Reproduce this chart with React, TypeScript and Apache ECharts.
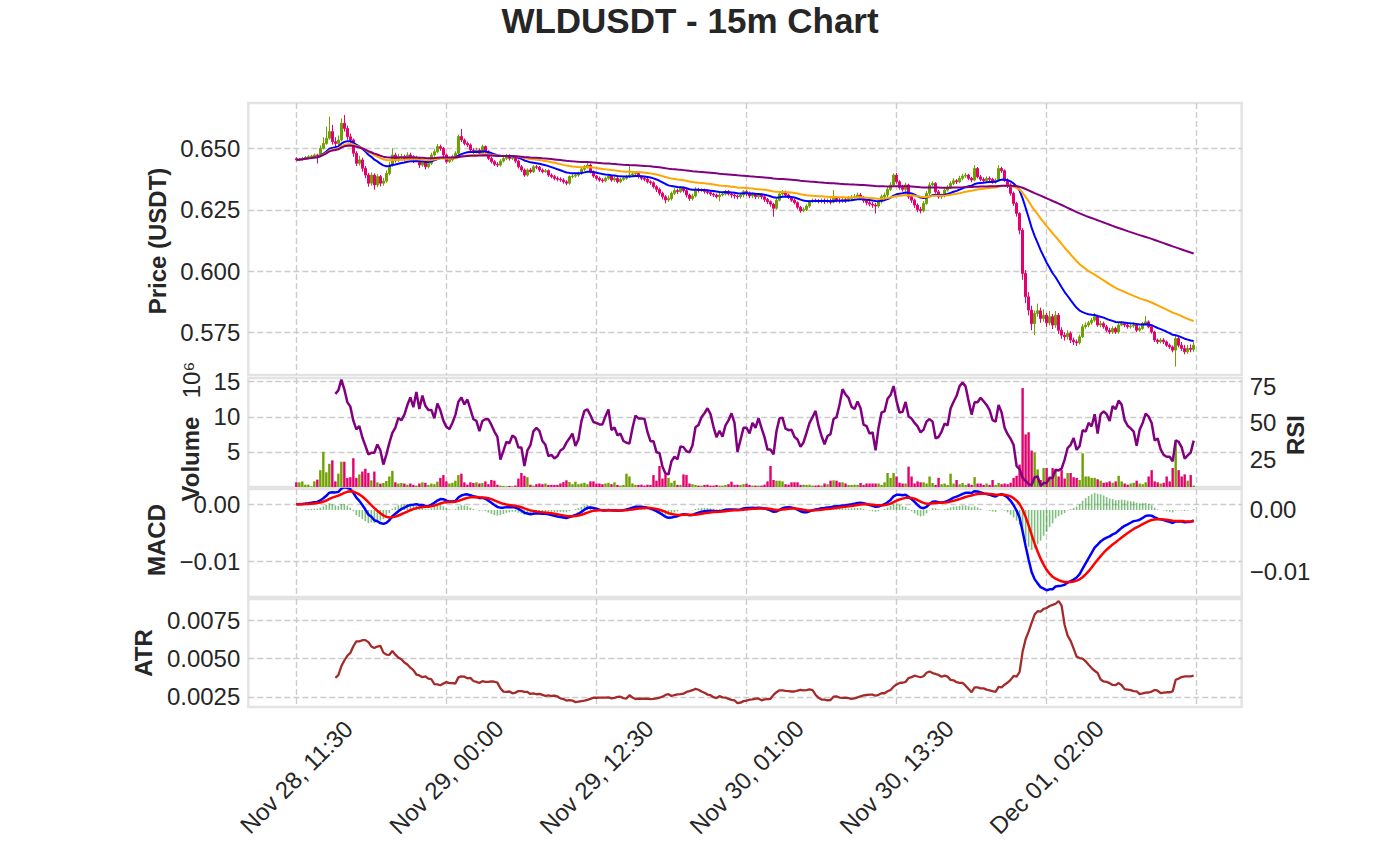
import React, { useEffect, useRef } from 'react';
import * as echarts from 'echarts';

const FONT = '"Liberation Sans", Arial, Helvetica, sans-serif';
const TXT = '#262626';
const UP = '#6ea000';
const DOWN = '#e6006e';

// OHLC in units of 0.0001 USDT, 15m bars starting Nov 28 11:30
const opens = [
  6458, 6453, 6455, 6459, 6463, 6466, 6469, 6473, 6470, 6500,
  6520, 6541, 6568, 6527, 6520, 6534, 6602, 6581, 6547, 6534,
  6480, 6439, 6453, 6419, 6391, 6358, 6391, 6351, 6385, 6358,
  6367, 6398, 6432, 6473, 6453, 6466, 6466, 6459, 6473, 6466,
  6453, 6459, 6432, 6446, 6425, 6439, 6473, 6486, 6507, 6500,
  6473, 6446, 6453, 6466, 6480, 6548, 6534, 6520, 6514, 6493,
  6486, 6493, 6480, 6507, 6486, 6459, 6446, 6435, 6432, 6448,
  6459, 6470, 6459, 6462, 6448, 6425, 6412, 6391, 6412, 6405,
  6425, 6423, 6412, 6405, 6409, 6391, 6385, 6378, 6374, 6371,
  6364, 6358, 6385, 6387, 6391, 6398, 6415, 6425, 6432, 6405,
  6387, 6378, 6371, 6368, 6378, 6387, 6371, 6378, 6364, 6374,
  6378, 6385, 6391, 6396, 6398, 6385, 6378, 6374, 6364, 6360,
  6344, 6333, 6317, 6303, 6290, 6296, 6317, 6328, 6324, 6337,
  6328, 6310, 6296, 6306, 6333, 6328, 6330, 6324, 6320, 6314,
  6310, 6303, 6310, 6314, 6324, 6314, 6310, 6306, 6303, 6310,
  6324, 6318, 6306, 6314, 6303, 6310, 6303, 6292, 6283, 6273,
  6256, 6289, 6314, 6323, 6310, 6300, 6289, 6279, 6260, 6246,
  6251, 6265, 6283, 6289, 6287, 6283, 6289, 6283, 6287, 6281,
  6296, 6289, 6287, 6292, 6289, 6296, 6300, 6303, 6310, 6300,
  6287, 6279, 6273, 6269, 6265, 6283, 6303, 6310, 6333, 6351,
  6391, 6364, 6341, 6333, 6351, 6303, 6289, 6269, 6251, 6246,
  6276, 6317, 6351, 6357, 6323, 6303, 6306, 6330, 6341, 6357,
  6368, 6364, 6378, 6387, 6391, 6378, 6371, 6418, 6384, 6374,
  6368, 6378, 6374, 6364, 6371, 6418, 6409, 6371, 6351, 6317,
  6276, 6235, 6167, 5991, 5896, 5842, 5787, 5828, 5839, 5808,
  5821, 5790, 5815, 5781, 5821, 5760, 5740, 5733, 5747, 5720,
  5713, 5709, 5733, 5774, 5781, 5790, 5801, 5815, 5781, 5787,
  5774, 5760, 5753, 5767, 5753, 5781, 5787, 5781, 5774, 5777,
  5781, 5760, 5767, 5787, 5794, 5774, 5753, 5720, 5713, 5720,
  5713, 5699, 5692, 5679, 5726, 5699, 5686, 5672, 5686, 5682,
];
const highs = [
  6463, 6461, 6465, 6468, 6472, 6474, 6479, 6478, 6512, 6545,
  6588, 6629, 6595, 6545, 6552, 6622, 6636, 6592, 6560, 6540,
  6488, 6470, 6462, 6428, 6400, 6402, 6398, 6395, 6392, 6380,
  6410, 6445, 6500, 6482, 6478, 6478, 6474, 6484, 6482, 6472,
  6470, 6465, 6456, 6452, 6448, 6482, 6496, 6518, 6515, 6506,
  6478, 6462, 6474, 6488, 6556, 6579, 6540, 6528, 6520, 6500,
  6502, 6500, 6515, 6512, 6492, 6466, 6452, 6444, 6456, 6466,
  6478, 6476, 6470, 6468, 6454, 6432, 6418, 6418, 6420, 6432,
  6432, 6428, 6418, 6416, 6414, 6398, 6392, 6386, 6382, 6378,
  6370, 6390, 6395, 6398, 6405, 6422, 6432, 6440, 6438, 6410,
  6392, 6385, 6378, 6385, 6394, 6392, 6386, 6384, 6380, 6386,
  6392, 6432, 6404, 6406, 6404, 6390, 6384, 6380, 6370, 6366,
  6350, 6340, 6324, 6310, 6308, 6324, 6338, 6336, 6346, 6344,
  6334, 6316, 6315, 6342, 6340, 6338, 6336, 6330, 6326, 6320,
  6316, 6324, 6322, 6330, 6330, 6320, 6316, 6312, 6318, 6330,
  6330, 6324, 6320, 6318, 6316, 6316, 6308, 6298, 6288, 6278,
  6296, 6320, 6330, 6328, 6316, 6305, 6295, 6284, 6266, 6260,
  6272, 6290, 6296, 6295, 6293, 6296, 6296, 6296, 6296, 6330,
  6305, 6298, 6302, 6300, 6306, 6310, 6314, 6320, 6318, 6306,
  6294, 6288, 6282, 6278, 6292, 6312, 6320, 6342, 6362, 6398,
  6400, 6370, 6352, 6360, 6356, 6310, 6295, 6276, 6262, 6285,
  6326, 6362, 6366, 6362, 6330, 6316, 6338, 6350, 6366, 6378,
  6375, 6388, 6396, 6400, 6396, 6384, 6432, 6424, 6392, 6382,
  6386, 6386, 6380, 6378, 6432, 6425, 6414, 6378, 6358, 6324,
  6282, 6240, 6175, 6005, 5915, 5860, 5840, 5868, 5852, 5845,
  5830, 5838, 5826, 5838, 5830, 5772, 5752, 5760, 5755, 5730,
  5722, 5742, 5785, 5792, 5798, 5810, 5830, 5822, 5798, 5795,
  5782, 5770, 5776, 5774, 5790, 5796, 5794, 5788, 5786, 5790,
  5786, 5776, 5794, 5818, 5800, 5780, 5758, 5726, 5728, 5728,
  5718, 5706, 5698, 5738, 5735, 5712, 5700, 5700, 5702, 5712,
];
const lows = [
  6447, 6448, 6450, 6454, 6458, 6461, 6463, 6438, 6466, 6496,
  6514, 6535, 6515, 6505, 6512, 6528, 6568, 6535, 6520, 6466,
  6428, 6430, 6405, 6378, 6344, 6348, 6332, 6342, 6345, 6348,
  6360, 6390, 6425, 6442, 6445, 6452, 6448, 6452, 6455, 6440,
  6444, 6420, 6425, 6414, 6418, 6432, 6466, 6480, 6490, 6465,
  6438, 6440, 6446, 6460, 6474, 6525, 6512, 6505, 6486, 6478,
  6480, 6472, 6474, 6478, 6452, 6438, 6428, 6424, 6426, 6442,
  6452, 6450, 6452, 6440, 6418, 6404, 6384, 6385, 6398, 6400,
  6415, 6404, 6398, 6400, 6384, 6378, 6370, 6366, 6364, 6356,
  6350, 6352, 6378, 6380, 6384, 6392, 6408, 6418, 6398, 6380,
  6370, 6364, 6360, 6362, 6372, 6364, 6364, 6357, 6358, 6368,
  6372, 6380, 6385, 6390, 6378, 6370, 6366, 6357, 6352, 6336,
  6322, 6308, 6292, 6276, 6282, 6288, 6310, 6314, 6318, 6320,
  6300, 6286, 6288, 6300, 6320, 6322, 6316, 6312, 6306, 6302,
  6296, 6284, 6305, 6308, 6308, 6299, 6295, 6293, 6295, 6300,
  6306, 6297, 6297, 6293, 6295, 6293, 6282, 6273, 6263, 6222,
  6250, 6284, 6308, 6302, 6294, 6282, 6272, 6252, 6238, 6240,
  6245, 6258, 6278, 6280, 6276, 6276, 6274, 6276, 6272, 6276,
  6280, 6276, 6278, 6278, 6282, 6286, 6290, 6296, 6292, 6278,
  6268, 6264, 6258, 6235, 6258, 6276, 6296, 6302, 6326, 6344,
  6356, 6332, 6324, 6325, 6294, 6278, 6258, 6240, 6235, 6240,
  6270, 6310, 6345, 6316, 6295, 6294, 6300, 6324, 6334, 6350,
  6355, 6358, 6370, 6380, 6370, 6362, 6366, 6378, 6366, 6360,
  6360, 6366, 6356, 6356, 6366, 6400, 6364, 6338, 6308, 6266,
  6222, 6150, 5965, 5870, 5820, 5760, 5740, 5815, 5790, 5795,
  5772, 5780, 5765, 5770, 5745, 5725, 5718, 5722, 5708, 5700,
  5696, 5702, 5728, 5766, 5772, 5782, 5794, 5774, 5772, 5766,
  5752, 5744, 5745, 5745, 5746, 5776, 5772, 5766, 5766, 5770,
  5752, 5754, 5762, 5782, 5768, 5746, 5712, 5704, 5706, 5704,
  5692, 5684, 5670, 5612, 5690, 5676, 5662, 5664, 5670, 5672,
];
const closes = [
  6453, 6455, 6459, 6463, 6466, 6469, 6473, 6470, 6500, 6520,
  6541, 6568, 6527, 6520, 6534, 6602, 6581, 6547, 6534, 6480,
  6439, 6453, 6419, 6391, 6358, 6391, 6351, 6385, 6358, 6367,
  6398, 6432, 6473, 6453, 6466, 6466, 6459, 6473, 6466, 6453,
  6459, 6432, 6446, 6425, 6439, 6473, 6486, 6507, 6500, 6473,
  6446, 6453, 6466, 6480, 6548, 6534, 6520, 6514, 6493, 6486,
  6493, 6480, 6507, 6486, 6459, 6446, 6435, 6432, 6448, 6459,
  6470, 6459, 6462, 6448, 6425, 6412, 6391, 6412, 6405, 6425,
  6423, 6412, 6405, 6409, 6391, 6385, 6378, 6374, 6371, 6364,
  6358, 6385, 6387, 6391, 6398, 6415, 6425, 6432, 6405, 6387,
  6378, 6371, 6368, 6378, 6387, 6371, 6378, 6364, 6374, 6378,
  6385, 6391, 6396, 6398, 6385, 6378, 6374, 6364, 6360, 6344,
  6333, 6317, 6303, 6290, 6296, 6317, 6328, 6324, 6337, 6328,
  6310, 6296, 6306, 6333, 6328, 6330, 6324, 6320, 6314, 6310,
  6303, 6310, 6314, 6324, 6314, 6310, 6306, 6303, 6310, 6324,
  6318, 6306, 6314, 6303, 6310, 6303, 6292, 6283, 6273, 6256,
  6289, 6314, 6323, 6310, 6300, 6289, 6279, 6260, 6246, 6251,
  6265, 6283, 6289, 6287, 6283, 6289, 6283, 6287, 6281, 6296,
  6289, 6287, 6292, 6289, 6296, 6300, 6303, 6310, 6300, 6287,
  6279, 6273, 6269, 6265, 6283, 6303, 6310, 6333, 6351, 6391,
  6364, 6341, 6333, 6351, 6303, 6289, 6269, 6251, 6246, 6276,
  6317, 6351, 6357, 6323, 6303, 6306, 6330, 6341, 6357, 6368,
  6364, 6378, 6387, 6391, 6378, 6371, 6418, 6384, 6374, 6368,
  6378, 6374, 6364, 6371, 6418, 6409, 6371, 6351, 6317, 6276,
  6235, 6167, 5991, 5896, 5842, 5787, 5828, 5839, 5808, 5821,
  5790, 5815, 5781, 5821, 5760, 5740, 5733, 5747, 5720, 5713,
  5709, 5733, 5774, 5781, 5790, 5801, 5815, 5781, 5787, 5774,
  5760, 5753, 5767, 5753, 5781, 5787, 5781, 5774, 5777, 5781,
  5760, 5767, 5787, 5794, 5774, 5753, 5720, 5713, 5720, 5713,
  5699, 5692, 5679, 5726, 5699, 5686, 5672, 5686, 5682, 5699,
];
// volume in millions
const volumes = [
  0.67, 0.67, 0.8, 0.33, 0.33, 0.1, 0.8, 1.05, 2.4, 5.0,
  2.1, 3.3, 3.8, 0.8, 1.9, 3.6, 3.6, 1.3, 1.4, 4.1,
  1.3, 1.8, 2.2, 2.6, 2.0, 0.95, 2.2, 0.67, 0.48, 0.57,
  0.86, 1.5, 2.3, 0.67, 0.5, 0.57, 0.5, 0.33, 0.5, 0.3,
  0.2, 0.5, 0.67, 0.6, 0.3, 0.5, 0.4, 0.76, 1.3, 1.7,
  0.8, 0.5, 0.6, 0.9, 1.7, 1.9, 0.67, 0.33, 0.67, 0.57,
  0.67, 0.5, 0.57, 0.8, 0.4, 1.0, 0.9, 0.33, 0.2, 0.15,
  0.1, 0.15, 0.1, 0.2, 1.2, 2.0, 1.6, 1.4, 0.33, 0.2,
  0.4, 0.5, 0.4, 0.5, 0.3, 0.3, 0.3, 0.3, 0.5, 0.7,
  0.95, 0.7, 0.4, 0.76, 0.4, 0.5, 0.6, 0.4, 0.8, 0.8,
  0.5, 0.5, 0.4, 0.5, 0.6, 0.4, 0.67, 0.3, 0.2, 0.3,
  1.9, 1.5, 0.5, 0.3, 0.3, 0.33, 0.2, 0.33, 0.3, 1.7,
  0.9, 3.0, 1.2, 1.8, 1.3, 0.6, 0.9, 0.3, 0.3, 1.8,
  1.7, 0.5, 0.4, 0.3, 0.2, 0.2, 0.3, 0.33, 0.2, 0.2,
  0.3, 0.2, 0.2, 0.3, 0.4, 0.76, 0.3, 0.33, 0.3, 0.4,
  0.5, 0.3, 0.2, 0.2, 0.2, 0.2, 0.33, 0.8, 3.0, 1.0,
  0.9, 0.9, 0.8, 0.4, 0.33, 0.67, 0.67, 0.67, 0.3, 0.33,
  0.3, 0.33, 0.2, 0.2, 0.25, 0.2, 0.5, 0.4, 0.9, 0.95,
  0.9, 0.67, 0.67, 0.5, 0.3, 0.3, 0.33, 0.3, 0.57, 0.3,
  0.5, 0.5, 0.5, 0.5, 0.5, 0.3, 0.67, 2.0, 1.3, 2.0,
  1.5, 0.6, 0.5, 0.5, 2.9, 1.5, 0.5, 0.8, 0.67, 0.67,
  0.5, 1.5, 0.57, 0.3, 1.3, 0.4, 0.5, 0.3, 1.9, 0.5,
  1.0, 0.4, 0.57, 0.3, 0.5, 0.3, 1.4, 0.5, 0.5, 0.3,
  0.5, 0.3, 1.0, 0.3, 0.57, 0.4, 0.5, 0.4, 0.6, 1.3,
  1.6, 3.2, 14.1, 7.5, 7.8, 5.2, 4.9, 2.5, 1.0, 2.7,
  2.7, 1.5, 2.7, 2.5, 1.5, 2.4, 1.2, 2.0, 2.0, 1.4,
  1.3, 1.0, 4.8, 1.5, 1.5, 1.3, 1.3, 1.1, 0.9, 0.6,
  0.67, 0.8, 0.6, 0.8, 1.6, 0.8, 0.5, 0.33, 0.5, 0.6,
  0.9, 0.5, 0.4, 0.67, 1.5, 2.4, 0.8, 0.67, 0.5, 0.6,
  1.5, 0.8, 2.7, 6.3, 2.4, 1.5, 1.8, 0.9, 1.7, 0.2,
];

const xTickBars = [0, 50, 100, 150, 200, 250];
const xTickLabels = ['Nov 28, 11:30', 'Nov 29, 00:00', 'Nov 29, 12:30', 'Nov 30, 01:00', 'Nov 30, 13:30', 'Dec 01, 02:00'];
const xGridBars = [0, 50, 100, 150, 200, 250, 300];
const priceTicks = [0.575, 0.6, 0.625, 0.65];
const volumeTicks = [5, 10, 15];
const rsiTicks = [25, 50, 75];
const macdTicks = [-0.01, 0];
const atrTicks = [0.0025, 0.005, 0.0075];

function ema(src: number[], span: number, adjust: boolean): number[] {
  const a = 2 / (span + 1);
  const out: number[] = [];
  if (adjust) {
    let num = 0, den = 0;
    for (const v of src) { num = v + (1 - a) * num; den = 1 + (1 - a) * den; out.push(num / den); }
  } else {
    let y = src[0];
    src.forEach((v, i) => { y = i === 0 ? v : a * v + (1 - a) * y; out.push(y); });
  }
  return out;
}

function App() {
  const ref = useRef<HTMLDivElement>(null);
  useEffect(() => {
    if (!ref.current) return;
    const chart = echarts.init(ref.current, undefined, { renderer: 'svg' });
    const N = closes.length;
    const c = closes.map(v => v / 10000);
    const o = opens.map(v => v / 10000);
    const h = highs.map(v => v / 10000);
    const l = lows.map(v => v / 10000);

    const candleData = c.map((v, i) => [i, o[i], v, l[i], h[i]]);
    const e20 = ema(c, 20, true), e50 = ema(c, 50, true), e200 = ema(c, 200, true);
    const e12 = ema(c, 12, false), e26 = ema(c, 26, false);
    const macd = e12.map((v, i) => v - e26[i]);
    const signal = ema(macd, 9, false);
    const hist = macd.map((v, i) => v - signal[i]);

    const gains: number[] = [], losses: number[] = [];
    for (let i = 0; i < N; i++) {
      const d = i === 0 ? 0 : c[i] - c[i - 1];
      gains.push(d > 0 ? d : 0); losses.push(d < 0 ? -d : 0);
    }
    const rsi: (number[])[] = [];
    const atr: (number[])[] = [];
    const tr = c.map((_, i) => i === 0 ? h[i] - l[i] : Math.max(h[i] - l[i], Math.abs(h[i] - c[i - 1]), Math.abs(l[i] - c[i - 1])));
    for (let i = 13; i < N; i++) {
      let g = 0, ls = 0, t = 0;
      for (let k = i - 13; k <= i; k++) { g += gains[k]; ls += losses[k]; t += tr[k]; }
      const rs = ls === 0 ? Infinity : g / ls;
      rsi.push([i, 100 - 100 / (1 + rs)]);
      atr.push([i, t / 14]);
    }

    const gridLine = { show: true, lineStyle: { color: '#cccccc', width: 1.4, type: [6, 3] } };
    const L = 248.3, W = 993.4;
    const grids = [
      { left: L, top: 103, width: W, height: 272 },
      { left: L, top: 378, width: W, height: 109 },
      { left: L, top: 489, width: W, height: 108 },
      { left: L, top: 599, width: W, height: 108 },
    ].map(g => ({ ...g, show: true, borderColor: '#e3e3e3', borderWidth: 2.5, containLabel: false }));

    const lbl = { fontSize: 24, color: TXT, fontFamily: FONT };
    const xAxes = [0, 1, 2, 3].map(gi => ({
      type: 'value', gridIndex: gi, min: -16, max: 315,
      axisLine: { show: false },
      axisTick: { show: false, customValues: xGridBars },
      splitLine: gridLine,
      axisLabel: gi === 3
        ? { ...lbl, show: true, customValues: xTickBars, rotate: 45, align: 'center', verticalAlign: 'middle', margin: 70,
            formatter: (v: number) => { const k = xTickBars.indexOf(Math.round(v)); return k >= 0 ? xTickLabels[k] : ''; } }
        : { show: false },
    }));
    const yAx = (gi: number, pos: string, min: number, max: number, ticks: number[], fmt: (v: number) => string, split: boolean) => ({
      type: 'value', gridIndex: gi, position: pos, min, max,
      axisLine: { show: false },
      axisTick: { show: false, customValues: ticks },
      axisLabel: { ...lbl, customValues: ticks, formatter: fmt, margin: 8 },
      splitLine: split ? gridLine : { show: false },
    });
    const minus = (v: number, d: number) => (v < -1e-12 ? '\u2212' : '') + Math.abs(v).toFixed(d);

    const yAxes = [
      yAx(0, 'left', 0.55778, 0.66844, priceTicks, v => v.toFixed(3), true),
      yAx(1, 'left', 0, 15.53, volumeTicks, v => String(Math.round(v)), true),
      yAx(1, 'right', 6.4, 80.6, rsiTicks, v => String(Math.round(v)), false),
      yAx(2, 'left', -0.01615, 0.00267, macdTicks, v => minus(v, 2), true),
      yAx(2, 'right', -0.0141, 0.0034, macdTicks, v => minus(v, 2), false),
      yAx(3, 'left', 0.00184, 0.00888, atrTicks, v => v.toFixed(4), true),
    ];

    const line = (xi: number, yi: number, data: any[], color: string, width: number) => ({
      type: 'line', xAxisIndex: xi, yAxisIndex: yi, data, showSymbol: false, symbol: 'none',
      lineStyle: { color, width }, itemStyle: { color }, z: 3,
    });

    const axTitle = (text: string, x: number, y: number, bold = true) => ({
      type: 'text', x, y, rotation: Math.PI / 2,
      style: { text, fontSize: 24, fontWeight: bold ? 'bold' : 'normal', fontFamily: FONT, fill: TXT, align: 'center', verticalAlign: 'middle' },
    });

    chart.setOption({
      animation: false,
      backgroundColor: '#ffffff',
      grid: grids,
      xAxis: xAxes,
      yAxis: yAxes,
      graphic: [
        { type: 'text', x: 690, y: 20, style: { text: 'WLDUSDT - 15m Chart', fontSize: 35, fontWeight: 'bold', fontFamily: FONT, fill: TXT, align: 'center', verticalAlign: 'middle' } },
        axTitle('Price (USDT)', 157, 241),
        axTitle('Volume', 190, 459),
        axTitle('10\u2076', 191, 380, false),
        axTitle('MACD', 156, 540),
        axTitle('ATR', 143, 653),
        axTitle('RSI', 1295, 435),
      ],
      series: [
        {
          type: 'candlestick', xAxisIndex: 0, yAxisIndex: 0, data: candleData,
          encode: { x: 0, y: [1, 2, 3, 4] }, barWidth: 2,
          itemStyle: { color: UP, color0: DOWN, borderColor: UP, borderColor0: DOWN, borderWidth: 1 },
        },
        line(0, 0, e20.map((v, i) => [i, v]), '#0000ff', 2),
        line(0, 0, e50.map((v, i) => [i, v]), '#ffa500', 2),
        line(0, 0, e200.map((v, i) => [i, v]), '#800080', 2),
        {
          type: 'bar', xAxisIndex: 1, yAxisIndex: 1, barWidth: 2.4,
          data: volumes.map((v, i) => ({ value: [i, v], itemStyle: { color: closes[i] >= opens[i] ? UP : DOWN } })),
        },
        line(1, 2, rsi, '#800080', 2.5),
        {
          type: 'bar', xAxisIndex: 2, yAxisIndex: 4, barWidth: 1.6,
          data: hist.map((v, i) => [i, v]), itemStyle: { color: 'rgba(0,128,0,0.5)' },
        },
        line(2, 3, macd.map((v, i) => [i, v]), '#0000ff', 2.5),
        line(2, 3, signal.map((v, i) => [i, v]), '#ff0000', 2.5),
        line(3, 5, atr, '#a52a2a', 2.3),
      ],
    });
    return () => chart.dispose();
  }, []);
  return <div ref={ref} style={{ position: 'fixed', left: 0, top: 0, width: 1380, height: 862, background: '#fff' }} />;
}

export default App;
